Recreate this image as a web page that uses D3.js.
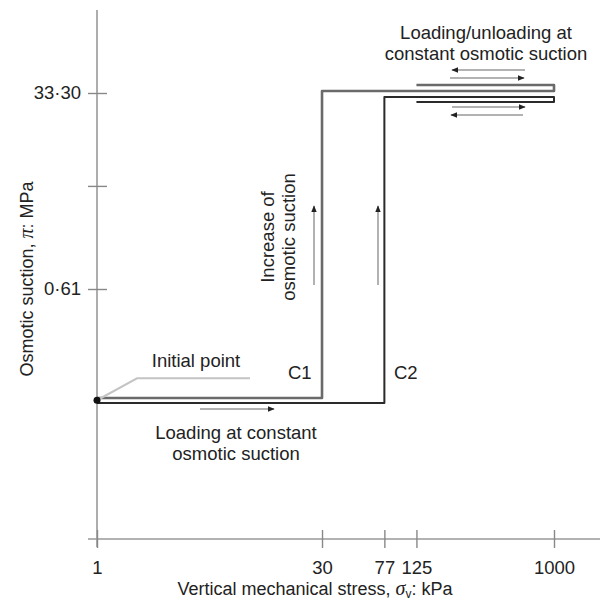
<!DOCTYPE html>
<html>
<head>
<meta charset="utf-8">
<script src="https://cdn.jsdelivr.net/npm/d3@7"></script>
<style>
  body { margin: 0; background: #fff; }
  text { font-family: "Liberation Sans", Arial, sans-serif; fill: #222; }
  .greek { font-family: "Liberation Serif", "Times New Roman", serif; font-style: italic; }
</style>
</head>
<body>
<div id="chart"></div>
<script>
// Tick values / labels
const xTicks = [1, 30, 77, 125, 1000];
const yTicks = [0.61, 5, 33.3];
const yTickLabels = ["0·61", "", "33·30"];

// Stress paths (sigma_v in kPa, osmotic suction in MPa)
const c1Stress  = [1, 30, 30, 1000, 1000, 125];
const c1Suction = [0.066, 0.066, 34.7, 34.7, 39.2, 39.2];
const c2Stress  = [1, 77, 77, 1000, 1000, 125];
const c2Suction = [0.0595, 0.0595, 30.7, 30.7, 27.7, 27.7];
const initialPoint = [1, 0.063];

const width = 605, height = 602;
const fs = "18.5px";

const svg = d3.select("#chart")
    .append("svg")
    .attr("width", width)
    .attr("height", height);

// log scales, calibrated to the tick positions
const x = d3.scaleLog().domain([1, 1000]).range([97, 554]);
const y = d3.scaleLog().domain([0.61, 33.3]).range([289, 93]);

const axisY = 539, axisX = x(1);

// arrow marker
svg.append("defs").append("marker")
    .attr("id", "head")
    .attr("viewBox", "0 0 10 10")
    .attr("refX", 9).attr("refY", 5)
    .attr("markerWidth", 7).attr("markerHeight", 7)
    .attr("markerUnits", "userSpaceOnUse")
    .attr("orient", "auto")
  .append("path")
    .attr("d", "M0,1L10,5L0,9Z")
    .attr("fill", "#222");

// Axis lines
svg.append("line")
    .attr("x1", axisX).attr("x2", axisX)
    .attr("y1", 10).attr("y2", 547)
    .attr("stroke", "#999").attr("stroke-width", 1.6);
svg.append("line")
    .attr("x1", 88).attr("x2", 600)
    .attr("y1", axisY).attr("y2", axisY)
    .attr("stroke", "#999").attr("stroke-width", 1.6);

// X axis ticks
const gx = svg.append("g")
    .attr("transform", `translate(0,${axisY})`)
    .call(d3.axisBottom(x).tickValues(xTicks).tickFormat(d3.format("d")).tickSize(9).tickPadding(13));
gx.select(".domain").remove();
gx.selectAll(".tick line").attr("y1", -9).attr("y2", 9).attr("stroke", "#888").attr("stroke-width", 1.4);
gx.selectAll(".tick text").style("font-size", fs).attr("fill", "#222")
    .style("font-family", "'Liberation Sans', Arial, sans-serif");

// Y axis ticks
const gy = svg.append("g")
    .attr("transform", `translate(${axisX},0)`)
    .call(d3.axisLeft(y).tickValues(yTicks).tickFormat((d, i) => yTickLabels[i]).tickSize(9).tickPadding(7));
gy.select(".domain").remove();
gy.selectAll(".tick line").attr("x1", 10).attr("x2", -9).attr("stroke", "#888").attr("stroke-width", 1.4);
gy.selectAll(".tick text").style("font-size", fs).attr("fill", "#222")
    .style("font-family", "'Liberation Sans', Arial, sans-serif");

// Axis titles
const xt = svg.append("text")
    .attr("x", 315).attr("y", 595)
    .attr("text-anchor", "middle")
    .style("font-size", "18px");
xt.append("tspan").text("Vertical mechanical stress, ");
xt.append("tspan").attr("class", "greek").style("font-size", "20px").text("σ");
xt.append("tspan").attr("dy", 3).style("font-size", "12px").text("v");
xt.append("tspan").attr("dy", -3).text(": kPa");

const yt = svg.append("text")
    .attr("transform", "translate(33,279) rotate(-90)")
    .attr("text-anchor", "middle")
    .style("font-size", "18px");
yt.append("tspan").text("Osmotic suction, ");
yt.append("tspan").attr("class", "greek").style("font-size", "20px").text("π");
yt.append("tspan").text(": MPa");

// Stress paths
const line = d3.line()
    .x(d => x(d[0]))
    .y(d => y(d[1]));

svg.append("path")
    .datum(d3.zip(c2Stress, c2Suction))
    .attr("fill", "none")
    .attr("stroke", "#2a2a2a")
    .attr("stroke-width", 2)
    .attr("stroke-linejoin", "round")
    .attr("d", line);

svg.append("path")
    .datum(d3.zip(c1Stress, c1Suction))
    .attr("fill", "none")
    .attr("stroke", "#6a6a6a")
    .attr("stroke-width", 2.6)
    .attr("stroke-linejoin", "round")
    .attr("d", line);

// Initial point + leader
const ix = x(initialPoint[0]), iy = y(initialPoint[1]);
svg.append("polyline")
    .attr("points", `${ix},${iy} ${ix + 40},${iy - 22} ${ix + 153},${iy - 22}`)
    .attr("fill", "none")
    .attr("stroke", "#c4c4c4")
    .attr("stroke-width", 2);
svg.append("circle")
    .attr("cx", ix).attr("cy", iy)
    .attr("r", 3.5)
    .attr("fill", "#111");
svg.append("text")
    .attr("x", 196).attr("y", 367)
    .attr("text-anchor", "middle")
    .style("font-size", fs)
    .text("Initial point");

// C1 / C2 labels
svg.append("text").attr("x", 288).attr("y", 379).style("font-size", fs).text("C1");
svg.append("text").attr("x", 394).attr("y", 379).style("font-size", fs).text("C2");

// helper for annotation arrows
function arrow(x1, y1, x2, y2) {
    svg.append("line")
        .attr("x1", x1).attr("y1", y1)
        .attr("x2", x2).attr("y2", y2)
        .attr("stroke", "#999")
        .attr("stroke-width", 1.5)
        .attr("marker-end", "url(#head)");
}

// Loading at constant osmotic suction
arrow(200, 409, 274, 409);
svg.append("text")
    .attr("text-anchor", "middle")
    .style("font-size", fs)
    .selectAll("tspan")
    .data(["Loading at constant", "osmotic suction"])
    .enter().append("tspan")
    .attr("x", 236)
    .attr("y", (d, i) => 439 + i * 21)
    .text(d => d);

// Increase of osmotic suction
arrow(314, 285, 314, 206);
arrow(378, 285, 378, 206);
svg.append("text")
    .attr("text-anchor", "middle")
    .attr("transform", "translate(274,237) rotate(-90)")
    .style("font-size", fs)
    .selectAll("tspan")
    .data(["Increase of", "osmotic suction"])
    .enter().append("tspan")
    .attr("x", 0)
    .attr("y", (d, i) => i * 21)
    .text(d => d);

// Loading/unloading at constant osmotic suction
arrow(525, 70, 452, 70);
arrow(450, 78, 524, 78);
arrow(452, 107, 525, 107);
arrow(523, 115, 451, 115);
svg.append("text")
    .attr("text-anchor", "middle")
    .style("font-size", fs)
    .selectAll("tspan")
    .data(["Loading/unloading at", "constant osmotic suction"])
    .enter().append("tspan")
    .attr("x", 486)
    .attr("y", (d, i) => 39 + i * 21)
    .text(d => d);
</script>
</body>
</html>
